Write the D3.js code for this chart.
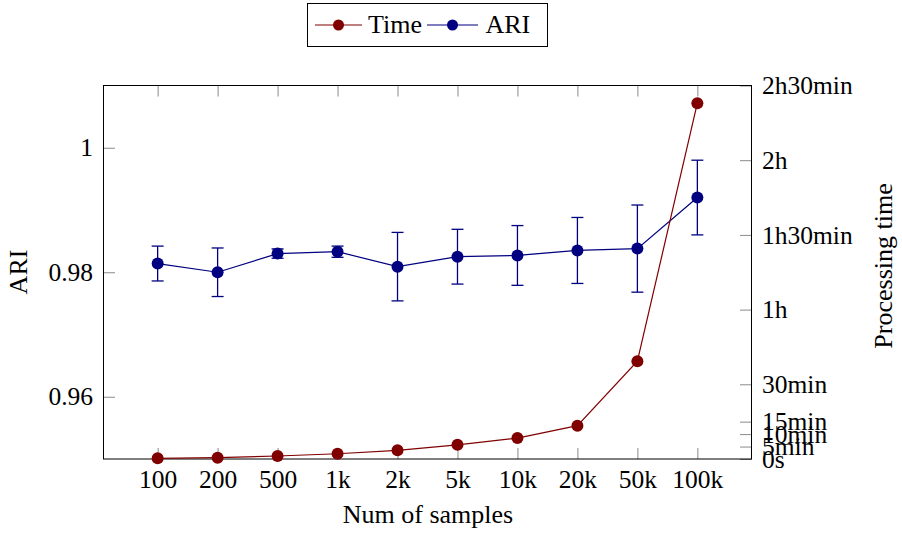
<!DOCTYPE html>
<html>
<head>
<meta charset="utf-8">
<script src="https://cdn.jsdelivr.net/npm/d3@7"></script>
<style>
  html, body { margin: 0; padding: 0; background: #fff; }
  svg { display: block; font-family: "Liberation Serif", serif; }
  svg text { font-family: "Liberation Serif", serif; fill: #000; }
</style>
</head>
<body>
<svg id="chart" width="902" height="534"></svg>
<script>
// ---- data ----
const categories = ["100", "200", "500", "1k", "2k", "5k", "10k", "20k", "50k", "100k"];
const timeMinutes = [0.27, 0.53, 1.2, 2.1, 3.5, 5.7, 8.4, 13.4, 39.3, 142.9];
const ariMean = [0.9814, 0.9800, 0.9830, 0.9833, 0.9809, 0.9825, 0.9827, 0.9835, 0.9838, 0.9920];
const ariErr = [0.0028, 0.0039, 0.00075, 0.0009, 0.0055, 0.0044, 0.0048, 0.0053, 0.0070, 0.0060];
const ariTicks = [0.96, 0.98, 1];
const timeTickValues = [0, 5, 10, 15, 30, 60, 90, 120, 150];
const timeTickLabels = ["0s", "5min", "10min", "15min", "30min", "1h", "1h30min", "2h", "2h30min"];
const legendLabels = ["Time", "ARI"];

// ---- layout ----
const L = 103.5, R = 751.5, T = 85.5, B = 459;
const TFS = 25.5;   // tick label size
const LFS = 26;     // axis / legend label size
const timeColor = "#800000";
const ariColor = "#000080";
const tickColor = "#8a8a8a";

const svg = d3.select("#chart");

const x = d3.scaleLinear().domain([-0.903, categories.length - 1 + 0.903]).range([L, R]);
const yAri = d3.scaleLinear().domain([0.95, 1.01]).range([B, T]);
const yTime = d3.scaleLinear().domain([0, 150]).range([B, T]);

const idx = categories.map((d, i) => i);

function styleAxis(g) {
  g.attr("font-family", "Liberation Serif");
  g.select(".domain").remove();
  g.selectAll(".tick line").attr("stroke", tickColor).attr("stroke-width", 1);
  g.selectAll(".tick text").attr("font-size", TFS);
}

// bottom axis
svg.append("g").attr("transform", `translate(0,${B})`)
  .call(d3.axisBottom(x).tickValues(idx).tickFormat(i => categories[i]).tickSize(-11).tickPadding(11))
  .call(styleAxis);
// top ticks
svg.append("g").attr("transform", `translate(0,${T})`)
  .call(d3.axisTop(x).tickValues(idx).tickFormat("").tickSize(-11))
  .call(styleAxis);
// left axis
svg.append("g").attr("transform", `translate(${L},0)`)
  .call(d3.axisLeft(yAri).tickValues(ariTicks).tickFormat(d => d === 1 ? "1" : d3.format(".2f")(d)).tickSize(-11.5).tickPadding(10.5))
  .call(styleAxis);
// right axis
svg.append("g").attr("transform", `translate(${R},0)`)
  .call(d3.axisRight(yTime).tickValues(timeTickValues).tickFormat((d, i) => timeTickLabels[i]).tickSize(-11.5).tickPadding(10.5))
  .call(styleAxis);

// frame
svg.append("rect").attr("x", L).attr("y", T).attr("width", R - L).attr("height", B - T)
  .attr("fill", "none").attr("stroke", "#000").attr("stroke-width", 1);

// ARI series
const ariLine = d3.line().x((d, i) => x(i)).y(d => yAri(d));
svg.append("path").datum(ariMean).attr("d", ariLine)
  .attr("fill", "none").attr("stroke", ariColor).attr("stroke-width", 1.2);
const eb = svg.append("g").attr("stroke", ariColor).attr("stroke-width", 1.3);
ariMean.forEach((m, i) => {
  const cx = x(i), y0 = yAri(m - ariErr[i]), y1 = yAri(m + ariErr[i]);
  eb.append("line").attr("x1", cx).attr("x2", cx).attr("y1", y0).attr("y2", y1);
  eb.append("line").attr("x1", cx - 6).attr("x2", cx + 6).attr("y1", y0).attr("y2", y0);
  eb.append("line").attr("x1", cx - 6).attr("x2", cx + 6).attr("y1", y1).attr("y2", y1);
});
svg.append("g").selectAll("circle").data(ariMean).join("circle")
  .attr("cx", (d, i) => x(i)).attr("cy", d => yAri(d)).attr("r", 6).attr("fill", ariColor);

// Time series
const timeLine = d3.line().x((d, i) => x(i)).y(d => yTime(d));
svg.append("path").datum(timeMinutes).attr("d", timeLine)
  .attr("fill", "none").attr("stroke", timeColor).attr("stroke-width", 1.2);
svg.append("g").selectAll("circle").data(timeMinutes).join("circle")
  .attr("cx", (d, i) => x(i)).attr("cy", d => yTime(d)).attr("r", 6).attr("fill", timeColor);

// axis labels
svg.append("text").attr("x", (L + R) / 2 + 0.5).attr("y", 523).attr("text-anchor", "middle")
  .attr("font-size", LFS).text("Num of samples");
svg.append("text").attr("transform", `translate(27,272) rotate(-90)`).attr("text-anchor", "middle")
  .attr("font-size", LFS).text("ARI");
svg.append("text").attr("transform", `translate(892,266) rotate(-90)`).attr("text-anchor", "middle")
  .attr("font-size", LFS).text("Processing time");

// legend
const lg = svg.append("g");
lg.append("rect").attr("x", 307.5).attr("y", 3.5).attr("width", 240).attr("height", 43)
  .attr("fill", "#fff").attr("stroke", "#000").attr("stroke-width", 1);
const legendItems = [
  { label: legendLabels[0], color: timeColor, x0: 315, x1: 362, tx: 368 },
  { label: legendLabels[1], color: ariColor, x0: 427, x1: 478, tx: 485.5 }
];
legendItems.forEach(it => {
  lg.append("line").attr("x1", it.x0).attr("x2", it.x1).attr("y1", 25).attr("y2", 25)
    .attr("stroke", it.color).attr("stroke-width", 1.2);
  lg.append("circle").attr("cx", (it.x0 + it.x1) / 2).attr("cy", 25).attr("r", 5.5).attr("fill", it.color);
  lg.append("text").attr("x", it.tx).attr("y", 33).attr("font-size", LFS).text(it.label);
});
</script>
</body>
</html>
